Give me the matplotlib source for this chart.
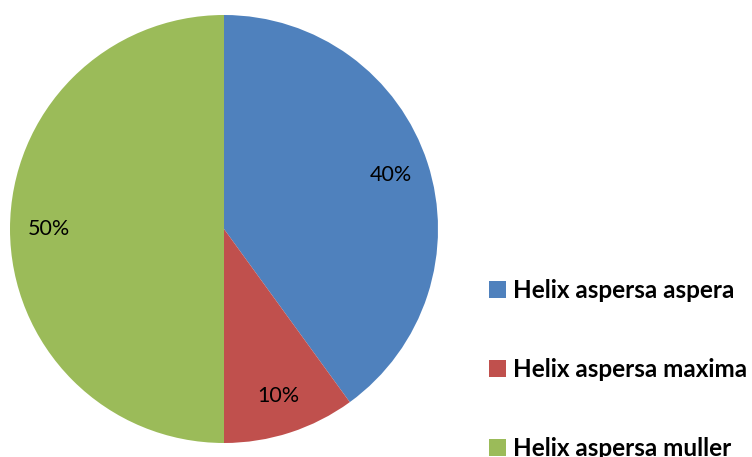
import matplotlib.pyplot as plt
from matplotlib.patches import Patch

labels = ["Helix aspersa aspera", "Helix aspersa maxima", "Helix aspersa muller"]
values = [40, 10, 50]
colors = ["#4F81BD", "#C0504D", "#9BBB59"]

fig = plt.figure(figsize=(7.52, 4.57), dpi=100)
ax = fig.add_axes([10 / 752, 14 / 457, 428 / 752, 428 / 457])

wedges, texts, autotexts = ax.pie(values, colors=colors, startangle=90, counterclock=False,
                                  autopct="%d%%", pctdistance=0.82, radius=1.0,
                                  textprops={"fontsize": 15.5, "family": "Lato"})
ax.set_xlim(-1, 1)
ax.set_ylim(-1, 1)
ax.set_aspect("equal")

handles = [Patch(facecolor=c, edgecolor="none") for c in colors]
fig.legend(handles, labels, loc="upper left", bbox_to_anchor=(479 / 752, 1 - 269 / 457),
           frameon=False, handlelength=0.7, handleheight=0.7, handletextpad=0.3,
           labelspacing=2.3, borderaxespad=0,
           prop={"family": "Lato", "weight": "bold", "size": 17.5})

fig.savefig("out.png", dpi=100)
